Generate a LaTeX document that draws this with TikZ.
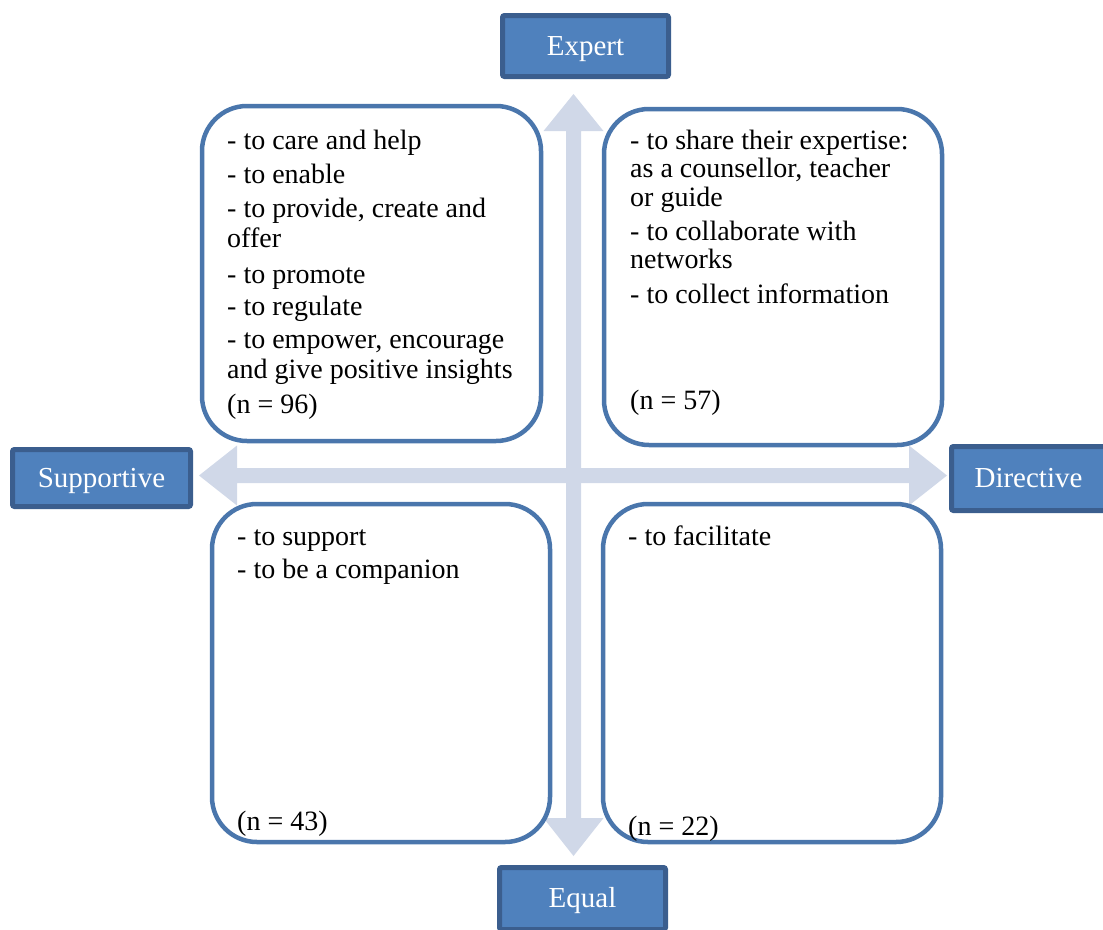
\documentclass[tikz,border=0pt]{standalone}
\usepackage{fontspec}
\setmainfont{Liberation Serif}
\definecolor{arrowfill}{HTML}{D0D8E8}
\definecolor{boxline}{HTML}{4A76AC}
\definecolor{labfill}{HTML}{4F81BD}
\definecolor{labline}{HTML}{3B5E8E}
\begin{document}
\begin{tikzpicture}[x=1pt,y=-1pt,
  quad/.style={draw=boxline, line width=4.5pt, fill=white, rounded corners=45pt, inner sep=0pt},
  txt/.style={anchor=base west, inner sep=0pt, font=\fontsize{28}{30}\selectfont},
  lab/.style={draw=labline, fill=labfill, line width=5pt, rounded corners=2pt, text=white,
              font=\fontsize{29}{30}\selectfont, inner sep=0pt, text height=24pt, text depth=6pt}]
\useasboundingbox (0,0) rectangle (1103,929);
% axis arrows
\coordinate (up) at (573.5,94);
\coordinate (down) at (573.5,856);
\coordinate (left) at (199,475.5);
\coordinate (right) at (947,475.5);
\fill[arrowfill] (up) -- ++(30,37) -- ++(-22.5,0) -- ++(0,687) -- ++(22.5,0) -- (down)
  -- ++(-30,-38) -- ++(22.5,0) -- ++(0,-687) -- ++(-22.5,0) -- cycle;
\fill[arrowfill] (left) -- ++(38,-30) -- ++(0,22.5) -- ++(672,0) -- ++(0,-22.5) -- (right)
  -- ++(-38,30) -- ++(0,-22.5) -- ++(-672,0) -- ++(0,22.5) -- cycle;
% quadrant boxes
\node[quad, minimum width=339pt, minimum height=335pt] (tl) at (371.5,273.5) {};
\node[quad, minimum width=338pt, minimum height=336pt] (tr) at (773,277) {};
\node[quad, minimum width=338pt, minimum height=338pt] (bl) at (381,673) {};
\node[quad, minimum width=338pt, minimum height=338pt] (br) at (772,673) {};
% texts
\foreach \y/\t [count=\i] in {149/{- to care and help}, 183/{- to enable},
   217/{- to provide, create and}, 247/{offer}, 283/{- to promote}, 315/{- to regulate},
   348/{- to empower, encourage}, 378/{and give positive insights}, 413/{(n = 96)}}
  \node[txt] (tlt\i) at (227,\y) {\t};
\foreach \y/\t [count=\i] in {149/{- to share their expertise:}, 177/{as a counsellor, teacher},
   206/{or guide}, 240/{- to collaborate with}, 268/{networks},
   303/{- to collect information}, 409/{(n = 57)}}
  \node[txt] (trt\i) at (630,\y) {\t};
\foreach \y/\t [count=\i] in {545/{- to support}, 578/{- to be a companion}, 830/{(n = 43)}}
  \node[txt] (blt\i) at (237,\y) {\t};
\foreach \y/\t [count=\i] in {545/{- to facilitate}, 835/{(n = 22)}}
  \node[txt] (brt\i) at (628,\y) {\t};
% axis labels
\node[lab, minimum width=166pt, minimum height=61pt] (expert) at (585.5,46) {Expert};
\node[lab, minimum width=178pt, minimum height=57pt] (supportive) at (101.5,478) {Supportive};
\node[lab, minimum width=158pt, minimum height=64pt] (directive) at (1030.5,478.5) {\hspace*{-4pt}Directive};
\node[lab, minimum width=166pt, minimum height=62pt] (equal) at (582.5,898.5) {Equal};
\end{tikzpicture}
\end{document}
